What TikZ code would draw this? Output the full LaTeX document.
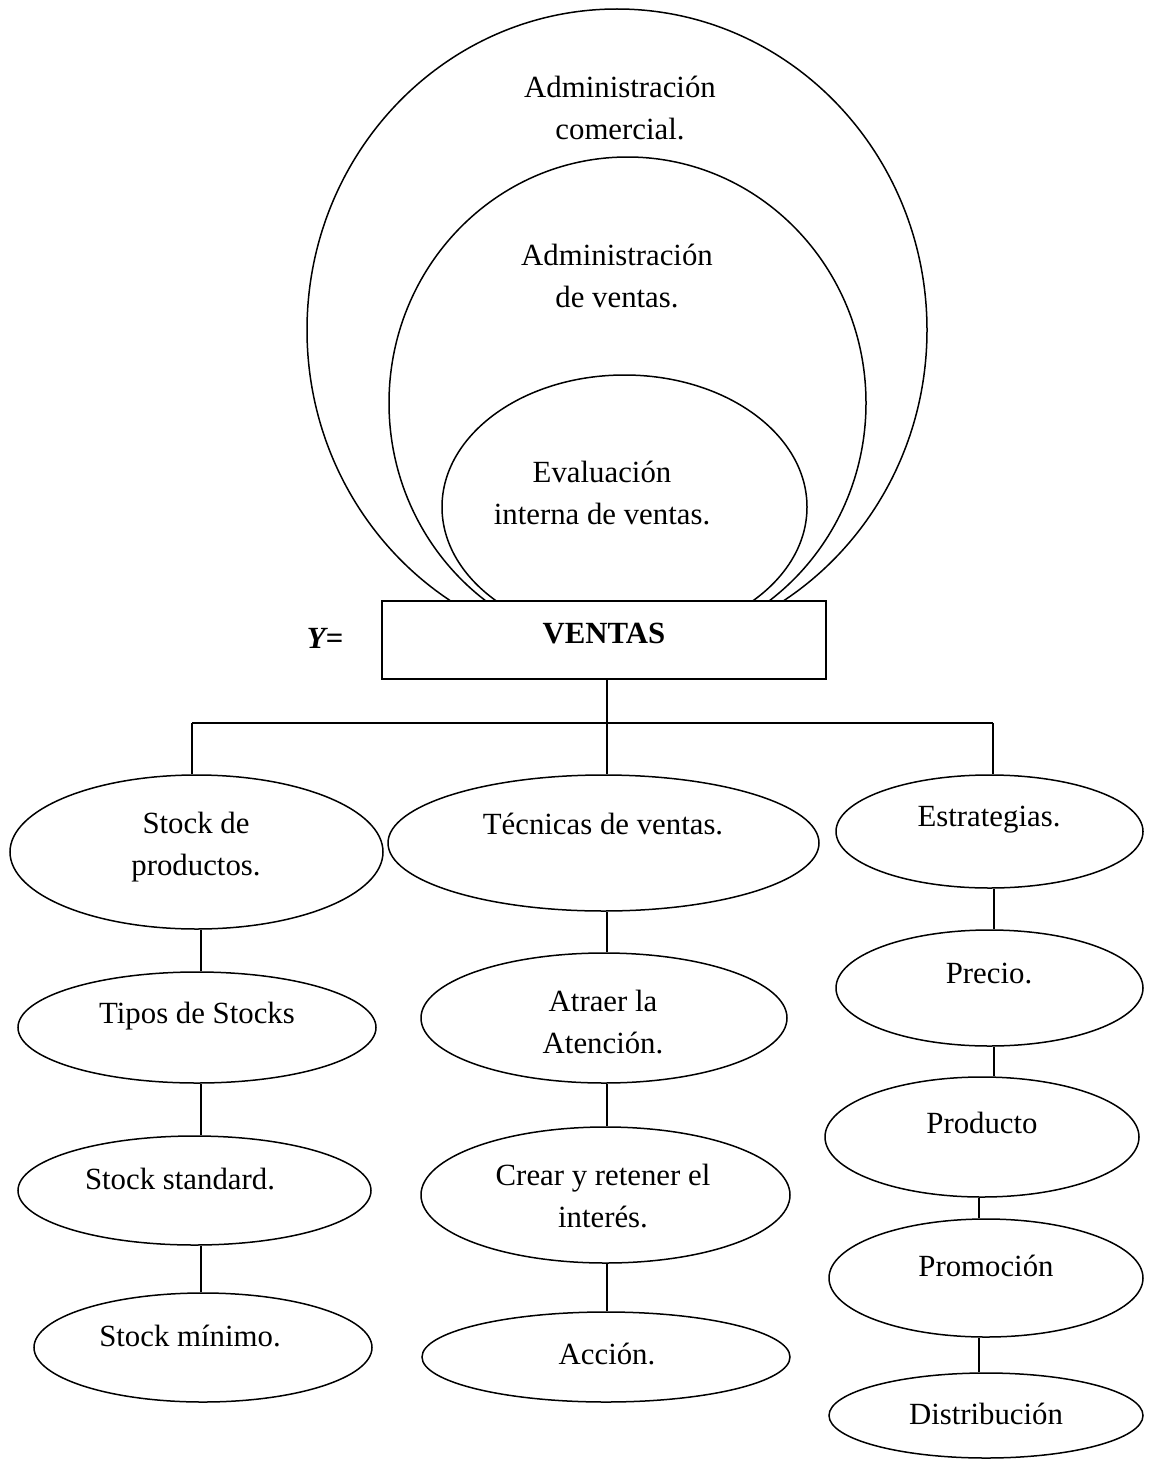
\documentclass[tikz,border=0pt]{standalone}
\usepackage{fontspec}
\setmainfont{Liberation Serif}
\usetikzlibrary{shapes.geometric}
\begin{document}
\begin{tikzpicture}[x=1pt,y=-1pt]
\tikzset{
  ell/.style={draw, ellipse, line width=1.5pt, inner sep=0pt},
  lbl/.style={align=center, inner sep=0pt, font=\fontsize{30.8}{42}\selectfont},
  conn/.style={line width=1.5pt},
  boxnode/.style={draw, fill=white, line width=1.5pt, inner sep=0pt}
}
\path[use as bounding box, fill=white] (0,0) rectangle (1151,1461);

% nested shapes above VENTAS
\node[ell, minimum width=620pt, minimum height=642pt] (outer) at (617,330) {};
\node[ell, minimum width=477pt, minimum height=492pt] (middle) at (627.5,403) {};
\node[ell, minimum width=365pt, minimum height=264pt] (inner) at (624.5,507) {};
\node[lbl] (tOuter) at (620,108) {Administración\\comercial.};
\node[lbl] (tMiddle) at (617,276) {Administración\\de ventas.};
\node[lbl] (tInner) at (602,493) {Evaluación\\interna de ventas.};

% VENTAS box
\node[boxnode, minimum width=444pt, minimum height=78pt] (ventas) at (604,640) {};
\node[lbl, font=\fontsize{30.8}{42}\selectfont\bfseries] (tVentas) at (604,634) {VENTAS};
\node[lbl, font=\fontsize{30.8}{42}\selectfont\bfseries\itshape] (tY) at (325,638) {Y=};

% left column
\node[ell, minimum width=373pt, minimum height=154pt] (stock) at (196.5,852) {};
\node[lbl] (tStock) at (196,847) {Stock de\\productos.};
\node[ell, minimum width=358pt, minimum height=111pt] (tipos) at (197,1027.5) {};
\node[lbl] (tTipos) at (197,1016) {Tipos de Stocks};
\node[ell, minimum width=353pt, minimum height=109pt] (standard) at (194.5,1190.5) {};
\node[lbl] (tStandard) at (180,1179) {Stock standard.};
\node[ell, minimum width=338pt, minimum height=109pt] (minimo) at (203,1347.5) {};
\node[lbl] (tMinimo) at (190,1336) {Stock mínimo.};

% middle column
\node[ell, minimum width=431pt, minimum height=136pt] (tecnicas) at (603.5,843) {};
\node[lbl] (tTecnicas) at (603,824) {Técnicas de ventas.};
\node[ell, minimum width=366pt, minimum height=130pt] (atraer) at (604,1018) {};
\node[lbl] (tAtraer) at (603,1022) {Atraer la\\Atención.};
\node[ell, minimum width=369pt, minimum height=136pt] (crear) at (605.5,1195) {};
\node[lbl] (tCrear) at (603,1196) {Crear y retener el\\interés.};
\node[ell, minimum width=368pt, minimum height=90pt] (accion) at (606,1357) {};
\node[lbl] (tAccion) at (607,1354) {Acción.};

% right column
\node[ell, minimum width=307pt, minimum height=113pt] (estr) at (989.5,831.5) {};
\node[lbl] (tEstr) at (989,820) {Estrategias.};
\node[ell, minimum width=307pt, minimum height=116pt] (precio) at (989.5,988) {};
\node[lbl] (tPrecio) at (989,974) {Precio.};
\node[ell, minimum width=314pt, minimum height=120pt] (producto) at (982,1137) {};
\node[lbl] (tProducto) at (982,1123) {Producto};
\node[ell, minimum width=314pt, minimum height=118pt] (promo) at (986,1278) {};
\node[lbl] (tPromo) at (986,1266) {Promoción};
\node[ell, minimum width=314pt, minimum height=85pt] (distrib) at (986,1415.5) {};
\node[lbl] (tDistrib) at (986,1414) {Distribución};

% connectors
\coordinate (jc) at (607,723);
\coordinate (jl) at (192,723);
\coordinate (jr) at (993,723);
\coordinate (xl) at (201,0);
\coordinate (xr1) at (994,0);
\coordinate (xr2) at (979,0);

\draw[conn] (ventas.south -| jc) -- (jc);
\draw[conn] (jl) -- (jr);
\draw[conn] (jl) -- (jl |- stock.north);
\draw[conn] (jc) -- (jc |- tecnicas.north);
\draw[conn] (jr) -- (jr |- estr.north);

\draw[conn] (xl |- stock.south) -- (xl |- tipos.north);
\draw[conn] (xl |- tipos.south) -- (xl |- standard.north);
\draw[conn] (xl |- standard.south) -- (xl |- minimo.north);

\draw[conn] (jc |- tecnicas.south) -- (jc |- atraer.north);
\draw[conn] (jc |- atraer.south) -- (jc |- crear.north);
\draw[conn] (jc |- crear.south) -- (jc |- accion.north);

\draw[conn] (xr1 |- estr.south) -- (xr1 |- precio.north);
\draw[conn] (xr1 |- precio.south) -- (xr1 |- producto.north);
\draw[conn] (xr2 |- producto.south) -- (xr2 |- promo.north);
\draw[conn] (xr2 |- promo.south) -- (xr2 |- distrib.north);
\end{tikzpicture}
\end{document}
